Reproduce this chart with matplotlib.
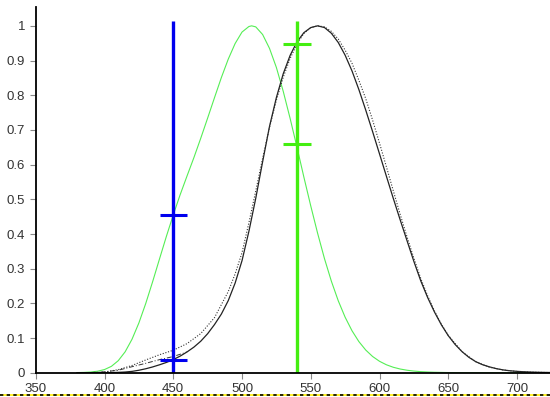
import numpy as np
import matplotlib
matplotlib.use('Agg')
import matplotlib.pyplot as plt
from matplotlib.lines import Line2D

plt.rcParams['font.family'] = ['Liberation Sans', 'DejaVu Sans']

# photopic V(lambda), CIE 1924 (solid black), 5 nm steps
wl_phot = list(range(380, 735, 5))
v_phot = [0.000039, 0.000064, 0.00012, 0.000217, 0.000396, 0.00064, 0.00121,
          0.00218, 0.004, 0.0073, 0.0116, 0.01684, 0.023, 0.0298, 0.038, 0.048,
          0.06, 0.0739, 0.091, 0.1126, 0.139, 0.1693, 0.208, 0.2586, 0.323,
          0.4073, 0.503, 0.6082, 0.71, 0.7932, 0.862, 0.91485, 0.954, 0.9803,
          0.99495, 1.0, 0.995, 0.9786, 0.952, 0.9154, 0.87, 0.8163, 0.757,
          0.6949, 0.631, 0.5668, 0.503, 0.4412, 0.381, 0.321, 0.265, 0.217,
          0.175, 0.1382, 0.107, 0.0816, 0.061, 0.04458, 0.032, 0.0232, 0.017,
          0.01192, 0.00821, 0.005723, 0.004102, 0.002929, 0.002091, 0.001484,
          0.001047, 0.00074, 0.00052]

# Judd-Vos correction, short wavelengths only (dash-dot black)
wl_jv = [390, 400, 410, 420, 430, 440, 450, 460]
v_jv = [0.0008, 0.0028, 0.0074, 0.0175, 0.0273, 0.0379, 0.0468, 0.06]

# newer photopic curve (dotted black)
wl_new = [390, 400, 410, 420, 430, 440, 450, 460, 470, 480, 490, 495, 500, 505,
          510, 515, 520, 525, 530, 535, 540, 545, 550, 555, 560, 565, 570, 575,
          580, 585, 590, 595, 600, 605, 610, 615, 620, 625, 630, 635, 640, 645,
          650, 660, 670, 680, 690, 700, 710, 720, 730]
v_new = [0.0004, 0.002, 0.009, 0.021, 0.037, 0.052, 0.065, 0.084, 0.113, 0.159,
         0.234, 0.285, 0.346, 0.432, 0.524, 0.618, 0.707, 0.786, 0.852, 0.906,
         0.948, 0.978, 0.995, 1.0, 0.997, 0.984, 0.962, 0.93, 0.892, 0.843,
         0.79, 0.728, 0.662, 0.594, 0.525, 0.457, 0.392, 0.33, 0.272, 0.222,
         0.178, 0.14, 0.108, 0.061, 0.032, 0.016, 0.008, 0.0037, 0.0018,
         0.0009, 0.0004]

# scotopic V'(lambda), CIE 1951 (green)
wl_scot = [380, 385, 390, 395, 400, 405, 410, 415, 420, 425, 430, 435, 440, 445,
           450, 455, 460, 465, 470, 475, 480, 485, 490, 495, 500, 505, 507, 510,
           515, 520, 525, 530, 535, 540, 545, 550, 555, 560, 565, 570, 575, 580,
           585, 590, 595, 600, 605, 610, 615, 620, 625, 630, 635, 640, 650, 660,
           680, 700, 730]
v_scot = [0.000589, 0.001108, 0.002209, 0.00453, 0.00929, 0.01852, 0.03484,
          0.0604, 0.0966, 0.1436, 0.1998, 0.2625, 0.3281, 0.3931, 0.455, 0.513,
          0.567, 0.62, 0.676, 0.734, 0.793, 0.851, 0.904, 0.949, 0.982, 0.998,
          1.0, 0.997, 0.975, 0.935, 0.88, 0.811, 0.733, 0.65, 0.564, 0.481,
          0.402, 0.3288, 0.2639, 0.2076, 0.1602, 0.1212, 0.0899, 0.0655, 0.0469,
          0.03315, 0.02312, 0.01593, 0.01088, 0.00737, 0.00497, 0.003335,
          0.002235, 0.001497, 0.000677, 0.000313, 0.0000715, 0.0000178, 0.000002]

# marker lines: wavelength, crossing values
blue_wl = 450
blue_marks = [0.038, 0.455]
green_wl = 540
green_marks = [0.66, 0.949]
line_top = 1.015
mark_half = 10

fig = plt.figure(figsize=(5.5, 3.97), dpi=100)
ax = fig.add_axes([0.065, 0.061, 0.935, 0.922])

ax.plot(wl_scot, v_scot, color='#55ee55', lw=0.8)
ax.plot(wl_phot, v_phot, color='#222222', lw=0.9)
ax.plot(wl_jv, v_jv, color='#333333', lw=0.7, ls=(0, (5, 2, 1, 2)))
ax.plot(wl_new, v_new, color='#333333', lw=0.8, ls=(0, (1, 1.5)))

ax.plot([blue_wl, blue_wl], [0, line_top], color='#0000ee', lw=2.4,
        solid_capstyle='butt')
for m in blue_marks:
    ax.plot([blue_wl - mark_half, blue_wl + mark_half], [m, m], color='#0000ee',
            lw=2.2, solid_capstyle='butt')
ax.plot([green_wl, green_wl], [0, line_top], color='#44ee11', lw=2.4,
        solid_capstyle='butt')
for m in green_marks:
    ax.plot([green_wl - mark_half, green_wl + mark_half], [m, m], color='#44ee11',
            lw=2.2, solid_capstyle='butt')

ax.set_xlim(350, 724)
ax.set_ylim(0, 1.055)
ax.set_xticks(np.arange(350, 701, 50))
ax.set_yticks(np.arange(0, 1.01, 0.1))
ax.set_yticklabels(['0', '0.1', '0.2', '0.3', '0.4', '0.5', '0.6', '0.7', '0.8',
                    '0.9', '1'])

for s in ['top', 'right']:
    ax.spines[s].set_visible(False)
for s in ['left', 'bottom']:
    ax.spines[s].set_linewidth(1.3)
    ax.spines[s].set_color('black')
ax.tick_params(direction='out', length=4, width=0.8, color='#888888',
               labelsize=9.5, labelcolor='#333333')
ax.tick_params(axis='x', pad=3.5)
ax.tick_params(axis='y', pad=3.5)

# yellow/black dashed strip at the bottom edge
fig.add_artist(Line2D([0, 1], [0.004, 0.004], transform=fig.transFigure,
                      color='#ffee00', lw=1.2))
fig.add_artist(Line2D([0, 1], [0.004, 0.004], transform=fig.transFigure,
                      color='black', lw=1.2, ls=(0, (2, 2))))

fig.savefig('out.png', dpi=100)
